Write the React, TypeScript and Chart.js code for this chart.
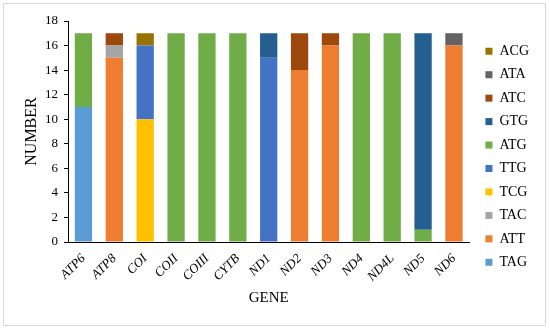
import React, { useEffect, useRef } from "react";
import { Chart, registerables } from "chart.js";

Chart.register(...registerables);

const genes = ["ATP6", "ATP8", "COI", "COII", "COIII", "CYTB", "ND1", "ND2", "ND3", "ND4", "ND4L", "ND5", "ND6"];

// stacked bottom -> top
const TAG = [11, 0, 0, 0, 0, 0, 0, 0, 0, 0, 0, 0, 0];
const ATT = [0, 15, 0, 0, 0, 0, 0, 14, 16, 0, 0, 0, 16];
const TAC = [0, 1, 0, 0, 0, 0, 0, 0, 0, 0, 0, 0, 0];
const TCG = [0, 0, 10, 0, 0, 0, 0, 0, 0, 0, 0, 0, 0];
const TTG = [0, 0, 6, 0, 0, 0, 15, 0, 0, 0, 0, 0, 0];
const ATG = [6, 0, 0, 17, 17, 17, 0, 0, 0, 17, 17, 1, 0];
const GTG = [0, 0, 0, 0, 0, 0, 2, 0, 0, 0, 0, 16, 0];
const ATC = [0, 1, 0, 0, 0, 0, 0, 3, 1, 0, 0, 0, 0];
const ATA = [0, 0, 0, 0, 0, 0, 0, 0, 0, 0, 0, 0, 1];
const ACG = [0, 0, 1, 0, 0, 0, 0, 0, 0, 0, 0, 0, 0];

const seriesNames = ["TAG", "ATT", "TAC", "TCG", "TTG", "ATG", "GTG", "ATC", "ATA", "ACG"];
const seriesValues = [TAG, ATT, TAC, TCG, TTG, ATG, GTG, ATC, ATA, ACG];
const seriesColors = ["#5B9BD5", "#ED7D31", "#A5A5A5", "#FFC000", "#4472C4", "#70AD47", "#255E91", "#9E480E", "#636363", "#997300"];

const yTicks = { min: 0, max: 18, step: 2 };

const SERIF = "'Liberation Serif', 'Times New Roman', serif";

const framePlugin = {
  id: "frame",
  beforeDraw(chart: any) {
    const ctx = chart.ctx;
    ctx.save();
    ctx.fillStyle = "#ffffff";
    ctx.fillRect(0, 0, chart.width, chart.height);
    ctx.strokeStyle = "#d9d9d9";
    ctx.lineWidth = 1;
    ctx.strokeRect(3.5, 3.5, chart.width - 8, chart.height - 8);
    ctx.restore();
  },
};

export default function App() {
  const ref = useRef<HTMLCanvasElement | null>(null);

  useEffect(() => {
    if (!ref.current) return;
    const chart = new Chart(ref.current, {
      type: "bar",
      data: {
        labels: genes,
        datasets: seriesNames.map((name, i) => ({
          label: name,
          data: seriesValues[i],
          backgroundColor: seriesColors[i],
          borderWidth: 0,
          yAxisID: "y",
          barPercentage: 0.56,
          categoryPercentage: 1,
        })),
      },
      plugins: [framePlugin],
      options: {
        animation: false,
        responsive: false,
        maintainAspectRatio: false,
        layout: { padding: { left: 18, top: 21, right: 11, bottom: 19 } },
        plugins: {
          tooltip: { enabled: false },
          legend: {
            position: "right",
            align: "start",
            reverse: true,
            title: { display: true, text: " ", font: { size: 10, lineHeight: 1.38 }, padding: 0 },
            labels: {
              boxWidth: 7,
              boxHeight: 7,
              padding: 9.45,
              color: "#000",
              font: { family: SERIF, size: 14 },
            },
          },
        },
        scales: {
          x: {
            stacked: true,
            grid: { display: true, drawOnChartArea: false, drawTicks: false },
            border: { display: true, color: "#000", width: 1 },
            ticks: {
              minRotation: 45,
              maxRotation: 45,
              padding: 9,
              color: "#000",
              font: { family: SERIF, size: 13, style: "italic" },
            },
            title: { display: true, text: "GENE", color: "#000", font: { family: SERIF, size: 15 }, padding: 4 },
            afterFit: (s: any) => {
              s.height = 69;
            },
          },
          y: {
            stacked: true,
            min: yTicks.min,
            max: yTicks.max,
            grid: { display: true, drawOnChartArea: false, drawTicks: true, tickLength: 4, color: "#000" },
            border: { display: true, color: "#000", width: 1 },
            ticks: {
              stepSize: yTicks.step,
              padding: 6,
              color: "#000",
              font: { family: SERIF, size: 13 },
            },
            title: { display: true, text: "NUMBER", color: "#000", font: { family: SERIF, size: 16 }, padding: 4 },
            afterFit: (s: any) => {
              s.width = 50;
            },
          },
          pad: {
            type: "linear",
            position: "right",
            display: true,
            grid: { display: false },
            border: { display: false },
            ticks: { display: false },
            afterFit: (s: any) => {
              s.width = 6.6;
            },
          },
        },
      },
    } as any);
    return () => chart.destroy();
  }, []);

  return (
    <div style={{ position: "fixed", left: 0, top: 0, width: 550, height: 330, background: "#fff" }}>
      <canvas ref={ref} width={550} height={330} style={{ width: 550, height: 330, display: "block" }} />
    </div>
  );
}
